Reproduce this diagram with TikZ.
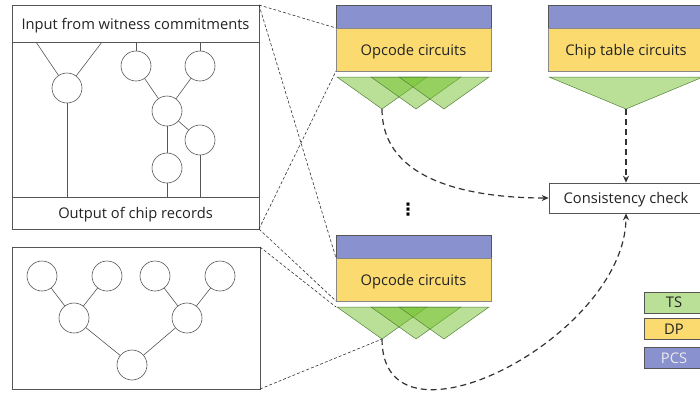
\documentclass[tikz,border=0pt]{standalone}
\usepackage{fontspec}
\setmainfont{Open Sans}
\newfontfamily\symfont{DejaVu Sans}
\usetikzlibrary{positioning}
\usetikzlibrary{backgrounds}
\usetikzlibrary{calc}
\usetikzlibrary{arrows.meta}

\definecolor{pcscol}{RGB}{137,145,206}
\definecolor{dpcol}{RGB}{251,219,112}
\definecolor{tscol}{RGB}{115,193,45}
\definecolor{tsline}{RGB}{85,130,55}
\definecolor{framecol}{RGB}{85,85,85}
\definecolor{txtcol}{RGB}{35,35,35}

\begin{document}
\begin{tikzpicture}[x=1pt,y=1pt,
		font=\fontsize{14.7}{17}\selectfont, text=txtcol,
		panel/.style={draw=framecol,line width=0.8pt,inner sep=0pt,outer sep=0pt,text depth=0pt},
		gate/.style={draw=framecol,line width=0.6pt,circle,minimum size=30pt,inner sep=0pt},
		wire/.style={framecol,line width=0.6pt},
		pcsbox/.style={fill=pcscol,draw=framecol,line width=0.6pt,minimum width=155pt,minimum height=23pt,inner sep=0pt,outer sep=0pt},
		dpbox/.style={fill=dpcol,draw=framecol!70,line width=0.6pt,minimum width=155pt,minimum height=43pt,inner sep=0pt,outer sep=0pt,text depth=0pt},
		tstri/.style={fill=tscol,fill opacity=0.5,draw=tsline,line width=0.5pt},
		zoomline/.style={black!80,dash pattern=on 3pt off 2pt,line width=0.6pt},
		flow/.style={black!80,line width=1.2pt,dash pattern=on 6pt off 4pt,-{Stealth[length=7pt,width=6pt]}},
		keybox/.style={draw=framecol,line width=0.8pt,minimum width=60pt,minimum height=21pt,inner sep=0pt}]

		\useasboundingbox (0,0) rectangle (700,-394);

		% circuit of one opcode
		\node[panel,minimum width=247pt,minimum height=37pt] at (135.5,-23.5) (inp) {Input from witness commitments};
		\node[panel,minimum width=247pt,minimum height=32pt] at (135.5,-213) (out) {Output of chip records};
		\draw[draw=framecol,line width=0.8pt] (inp.south west) rectangle (out.north east);

		\node[gate] at (67,-88) (ga) {};
		\node[gate] at (136,-66) (gb) {};
		\node[gate] at (200,-66) (gc) {};
		\node[gate] at (167,-111) (gd) {};
		\node[gate] at (200,-140) (ge) {};
		\node[gate] at (167,-168) (gf) {};

		\coordinate (ia) at ($(inp.south west)+(24,0)$);
		\coordinate (ib) at ($(inp.south west)+(90,0)$);

		\draw[wire] (ia) -- (ga);
		\draw[wire] (ib) -- (ga);
		\draw[wire] (ga) -- (ga |- out.north);
		\draw[wire] (gb) -- (gb |- inp.south);
		\draw[wire] (gc) -- (gc |- inp.south);
		\draw[wire] (gb) -- (gd);
		\draw[wire] (gc) -- (gd);
		\draw[wire] (gd) -- (ge);
		\draw[wire] (gd) -- (gf);
		\draw[wire] (gf) -- (gf |- out.north);
		\draw[wire] (ge) -- (ge |- out.north);

		% tree of the sumcheck
		\node[panel,minimum width=248pt,minimum height=142pt] at (136,-318) (tree) {};

		\node[gate] at (42,-276) (la) {};
		\node[gate] at (107,-276) (lb) {};
		\node[gate] at (155,-276) (lc) {};
		\node[gate] at (220,-276) (ld) {};
		\node[gate] at (74,-318) (na) {};
		\node[gate] at (187,-318) (nb) {};
		\node[gate] at (132,-365) (root) {};

		\draw[wire] (la) -- (na);
		\draw[wire] (lb) -- (na);
		\draw[wire] (lc) -- (nb);
		\draw[wire] (ld) -- (nb);
		\draw[wire] (na) -- (root);
		\draw[wire] (nb) -- (root);

		% opcode circuits
		\node[pcsbox] at (413.5,-16.5) (pcsa) {};
		\node[dpbox,below=0pt of pcsa] (dpa) {Opcode circuits};
		\foreach \d in {1,35,63}
		\draw[tstri] ($(dpa.south west)+(\d,-6)$) -- ++(90,0) -- ++(-45,-32) -- cycle;
		\coordinate (tipa) at ($(dpa.south west)+(46,-38)$);

		\node[pcsbox] at (413.5,-246.5) (pcsb) {};
		\node[dpbox,below=0pt of pcsb] (dpb) {Opcode circuits};
		\foreach \d in {1,35,63}
		\draw[tstri] ($(dpb.south west)+(\d,-6)$) -- ++(90,0) -- ++(-45,-32) -- cycle;
		\coordinate (tipb) at ($(dpb.south west)+(46,-38)$);
		\coordinate (tsb) at ($(dpb.south west)+(0,-6)$);

		\node[font=\symfont\bfseries\fontsize{17}{17}\selectfont,text=black] at (408,-210) (more) {⋮};

		% chip tables
		\node[pcsbox,minimum width=156pt] at (626,-16.5) (pcsc) {};
		\node[dpbox,minimum width=156pt,below=0pt of pcsc] (dpc) {Chip table circuits};
		\draw[tstri] ($(dpc.south west)+(1,-6)$) -- ($(dpc.south east)+(-1,-6)$) -- ($(dpc.south)+(0,-38)$) -- cycle;
		\coordinate (tipc) at ($(dpc.south)+(0,-38)$);

		\node[draw=framecol,line width=0.6pt,minimum width=154pt,minimum height=30pt,fill=white,text depth=0pt] at (626,-198) (cc) {Consistency check};

		% legend
		\node[keybox,fill=tscol!50] at (674,-302.5) (kts) {TS};
		\node[keybox,fill=dpcol,below=5pt of kts] (kdp) {DP};
		\node[keybox,fill=pcscol,text=white!92!black,below=7pt of kdp] (kpcs) {PCS};

		% zoom lines
		\draw[zoomline] (inp.north east) -- (dpa.north west);
		\draw[zoomline] (out.south east) -- (dpa.south west);
		\draw[zoomline] (inp.north east) -- (dpb.north west);
		\draw[zoomline] (out.south east) -- (dpb.south west);
		\draw[zoomline] (tree.north east) -- (tsb);
		\draw[zoomline] (tree.south east) -- (tipb);

		% checks
		\draw[flow] (tipc) -- (cc.north);
		\draw[flow] (tipa) to[out=-90,in=180] (cc.west);
		\draw[flow] (tipb) to[out=-90,in=-90,looseness=1.15] (cc.south);
	\end{tikzpicture}
\end{document}
